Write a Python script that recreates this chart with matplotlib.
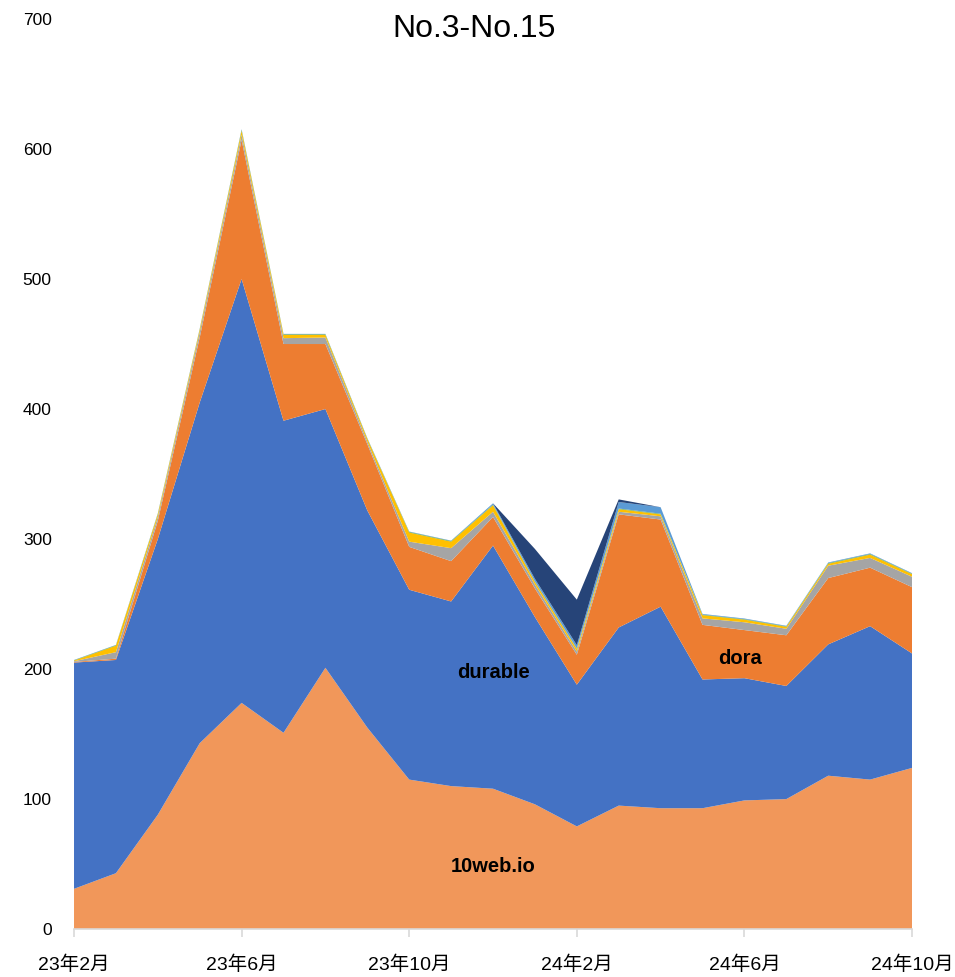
import matplotlib.pyplot as plt
import numpy as np

plt.rcParams['font.family'] = ['Liberation Sans', 'Noto Sans CJK SC']

# 23年2月 .. 24年10月, one point per month
months = ['23年2月', '23年3月', '23年4月', '23年5月', '23年6月', '23年7月', '23年8月',
          '23年9月', '23年10月', '23年11月', '23年12月', '24年1月', '24年2月', '24年3月',
          '24年4月', '24年5月', '24年6月', '24年7月', '24年8月', '24年9月', '24年10月']

web10 = [31, 43, 88, 143, 174, 151, 201, 155, 115, 110, 108, 96, 79, 95, 93, 93, 99, 100, 118, 115, 124]
durable = [174, 164, 212, 262, 326, 240, 199, 167, 146, 142, 187, 144, 109, 137, 155, 99, 94, 87, 101, 118, 88]
dora = [0.5, 1, 14, 50, 107, 59, 50, 51, 33, 31, 22, 22, 23, 87, 67, 42, 37, 39, 51, 45, 51]
gray_s = [0.5, 5, 3, 4, 4, 4.5, 5, 2, 4, 10, 4, 3, 2.5, 2, 2.5, 5, 6, 5, 9.5, 7.5, 8]
yellow_s = [0.5, 5, 2, 2, 3, 2.5, 2, 2, 7, 5, 5, 2, 2, 2, 1.5, 2.5, 2, 1.5, 1.5, 2.5, 2]
green_s = [0.3, 0.4, 0.5, 0.5, 0.8, 0.5, 0.5, 0.4, 0.5, 0.5, 0.5, 0.4, 0.4, 0.5, 0.5, 0.4, 0.4, 0.4, 0.5, 0.5, 0.4]
lightblue_s = [0.2, 0.2, 0.3, 0.3, 0.4, 0.3, 0.3, 0.3, 0.3, 0.3, 1, 2, 2.5, 5, 5, 0.5, 0.5, 0.4, 0.5, 0.5, 0.4]
darkblue_s = [0, 0, 0, 0, 0, 0, 0, 0, 0, 0, 0, 23, 35, 2, 0, 0, 0, 0, 0, 0, 0]

colors = ['#F1975A', '#4472C4', '#ED7D31', '#A5A5A5', '#FFC000', '#70AD47', '#5B9BD5', '#264478']

x = np.arange(len(months))

fig = plt.figure(figsize=(9.55, 9.77), dpi=100)
ax = fig.add_axes([0.0775, 0.049, 0.8775, 0.9316])

ax.stackplot(x, web10, durable, dora, gray_s, yellow_s, green_s, lightblue_s, darkblue_s,
             colors=colors, linewidth=0)

ax.set_xlim(0, len(months) - 1)
ax.set_ylim(0, 700)
ax.set_yticks(range(0, 701, 100))
ax.set_xticks(x[::4])
ax.set_xticklabels(months[::4])

for s in ['top', 'right', 'left']:
    ax.spines[s].set_visible(False)
ax.spines['bottom'].set_color('#D9D9D9')
ax.spines['bottom'].set_linewidth(1.2)
ax.tick_params(axis='x', length=6, color='#D9D9D9', width=1.2, pad=13, labelsize=14)
ax.tick_params(axis='y', length=0, pad=16, labelsize=12.5)

ax.text(10, 197, 'durable', ha='center', va='center', fontsize=14.5, fontweight='bold')
ax.text(15.9, 208, 'dora', ha='center', va='center', fontsize=14.5, fontweight='bold')
ax.text(10, 48, '10web.io', ha='center', va='center', fontsize=14.5, fontweight='bold')

fig.text(0.496, 0.97, 'No.3-No.15', ha='center', va='center', fontsize=23)

fig.savefig('out.png', dpi=100)
